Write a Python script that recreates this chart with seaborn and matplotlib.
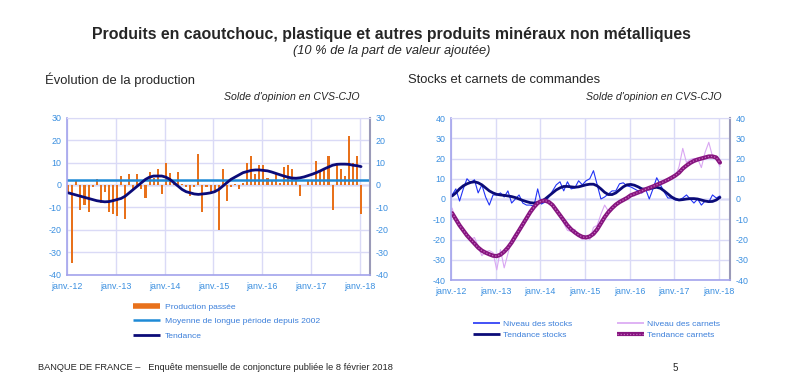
import matplotlib
matplotlib.use("Agg")
import matplotlib.pyplot as plt
from matplotlib.lines import Line2D
import numpy as np
import pandas as pd
import seaborn as sns

# --- data (monthly, janv. 2012 -> janv. 2018) ---
year_labels = ['janv.-12', 'janv.-13', 'janv.-14', 'janv.-15', 'janv.-16', 'janv.-17', 'janv.-18']

production = [
    -3, -35, 2, -11, -9, -12, -1, 2.5, -8, -3, -12, -13,
    -14, 4, -15, 5, -2, 5, -2, -6, 6, 3, 7, -4,
    10, 5.5, 0.5, 6, 0.5, -1, -5, -1, 14, -12, -1, -3,
    -2.5, -20, 7, -7, -1, 0.5, -2, 1, 10, 13, 5, 9,
    9, 3, 2, 5.5, 1, 8, 9, 7, 2, -5, 0, 2,
    2, 10.5, 6, 7, 13, -11, 9, 7, 4, 22, 10, 13,
    -13,
]
tendance_prod = [
    -3.5, -4, -4.5, -5, -5.5, -6, -6.5, -7, -7.3, -7.5, -7.4, -7,
    -6.5, -6, -5, -3.5, -2, -0.5, 1, 2.5, 3.5, 4, 4, 4,
    3.5, 2.5, 1, -0.5, -2, -3, -3.5, -4, -4.2, -4, -3.8, -3.5,
    -3, -2, -0.5, 1, 2.5, 3.5, 4.5, 5.5, 6, 6.5, 6.7, 6.7,
    6.5, 6.3, 5.8, 5.2, 4.6, 4, 3.5, 3.1, 3, 3.2, 3.6, 4.2,
    4.8, 5.5, 6.3, 7.2, 8, 8.8, 9.2, 9.3, 9.3, 9.2, 8.8, 8.6,
    8.2,
]
moyenne_lp = 2.3

niveau_stocks = [
    2, 5, -1, 5, 10, 8, 9.5, 3, 7, 1, -3, 2,
    2, 3, 1, 4, -2, 0, 2, -2, -3, -3, -3.5, 5,
    -2.5, -1.5, 1, 4, 7, 8.5, 4, 8.5, 5, 5.5, 9, 7,
    9, 10, 14, 7, 0, 1, 2.5, 4, 4, 7.5, 8, 6.5,
    6, 5, 4, 3, 5, 0, 5, 10.5, 7, 3.5, 0.5, 0.5,
    -0.5, -0.5, 0.5, 2, 0, -2, 0, -3, -1, -1.5, 2, 0.5,
    1.5,
]
tendance_stocks = [
    1.5, 3, 5, 6.5, 7.5, 8.2, 8.5, 8, 7, 5.5, 4, 3,
    2.3, 2, 1.8, 1.5, 1.2, 0.7, 0, -0.7, -1.3, -1.8, -2, -1.8,
    -1.2, 0, 1.5, 3, 4.5, 5.5, 6.2, 6.2, 6, 5.8, 6, 6.5,
    7, 7.3, 7.3, 6.5, 5, 3.3, 2.2, 2.2, 3, 4.5, 6, 7,
    7.2, 6.8, 6, 5, 4.8, 5, 5.5, 5.8, 5.3, 4, 2.5, 1,
    0, -0.5, -0.3, 0, 0.2, 0.2, 0, -0.5, -1, -1.3, -1.2, -0.5,
    0.8,
]
niveau_carnets = [
    -4.5, -11, -13, -16, -17, -20, -19, -23.5, -28, -26, -25.5, -26.5,
    -35, -25, -34, -27, -20, -17, -16, -13, -10, -6, -4, -2,
    -1.5, 0, -2.5, -3, -6, -8, -12, -15.5, -16, -15, -18.5, -20,
    -19, -20, -14, -13, -7.5, -3, -6, -4, -2.5, -1.5, 0, 1,
    2, 1.5, 4, 3, 5.5, 4, 6.5, 6, 7, 8, 9.5, 11,
    11, 16, 25, 18, 19.5, 20, 20, 15.5, 23, 28, 21, 20,
    16,
]
tendance_carnets = [
    -7, -10, -13, -15.5, -18, -20, -22, -24, -25.5, -26.5, -27.3, -28,
    -28.2, -27.5, -26, -24, -21.5, -18.5, -15.5, -12.5, -9.5, -6.5, -4, -2,
    -1, -0.8, -1.5, -3, -5.5, -8, -10.5, -13, -15, -16.5, -17.8, -18.7,
    -19, -18.5, -17.2, -15, -12, -9, -6.5, -4.5, -2.8, -1.5, -0.5, 0.5,
    1.8, 2.5, 3.2, 4, 4.8, 5.5, 6.2, 7, 7.8, 8.6, 9.5, 10.5,
    11.6, 13, 15, 16.5, 17.8, 18.8, 19.5, 20, 20.5, 21, 21, 20.5,
    18,
]

months = np.arange(len(production)) + 0.3
df = pd.DataFrame({
    'mois': months,
    'production': production,
    'tendance': tendance_prod,
    'niveau_stocks': niveau_stocks,
    'tendance_stocks': tendance_stocks,
    'niveau_carnets': niveau_carnets,
    'tendance_carnets': tendance_carnets,
})

sns.set_style("white")
plt.rcParams['font.family'] = ['Liberation Sans', 'DejaVu Sans']
plt.rcParams['axes.unicode_minus'] = False

ORANGE = '#E8711B'
BLUE_MEAN = '#1E8AD6'
NAVY = '#0B0B78'
STOCK_BLUE = '#2233F5'
CARNET_LIGHT = '#D9A6F2'
CARNET_DARK = '#86157F'
TICK_BLUE = '#3A8FE0'
GRID = '#DADAF6'
SPINE = '#A3A3EC'

fig = plt.figure(figsize=(7.92, 3.86), dpi=100)
ax1 = fig.add_axes([67 / 792, 1 - 274.7 / 386, 303 / 792, 157 / 386])
ax2 = fig.add_axes([451 / 792, 1 - 280 / 386, 279 / 792, 162 / 386])


def style_axis(ax, ylim, yticks, xmax):
    ax.set_xlim(0, xmax)
    ax.set_ylim(*ylim)
    ax.set_xticks(np.arange(0, 73, 12))
    ax.set_xticklabels(year_labels)
    ax.set_yticks(yticks)
    ax.grid(True, color=GRID, linewidth=1.0)
    ax.set_axisbelow(True)
    ax.axhline(0, color=SPINE, linewidth=1.0, zorder=0.5)
    ax.set_xlabel('')
    ax.set_ylabel('')
    for side in ['left', 'bottom']:
        ax.spines[side].set_color(SPINE)
        ax.spines[side].set_linewidth(1.2)
    ax.spines['top'].set_color(GRID)
    ax.spines['right'].set_color('#9A9AB8')
    ax.spines['right'].set_linewidth(1.5)
    ax.tick_params(axis='both', labelsize=6.4, labelcolor=TICK_BLUE, length=0)
    ax.tick_params(axis='x', pad=5)
    ax.tick_params(axis='y', pad=4, labelright=True, labelleft=True)


# --- left: production ---
sns.barplot(data=df, x='mois', y='production', native_scale=True, color=ORANGE,
            width=0.5, saturation=1, linewidth=0, ax=ax1)
ax1.axhline(moyenne_lp, color=BLUE_MEAN, linewidth=1.8)
sns.lineplot(data=df, x='mois', y='tendance', color=NAVY, linewidth=2.0, ax=ax1)
style_axis(ax1, (-40, 30), np.arange(-40, 31, 10), 74.5)

# --- right: stocks et carnets ---
sns.lineplot(data=df, x='mois', y='niveau_carnets', color=CARNET_LIGHT, linewidth=0.8, ax=ax2)
sns.lineplot(data=df, x='mois', y='niveau_stocks', color=STOCK_BLUE, linewidth=0.8, ax=ax2)
sns.lineplot(data=df, x='mois', y='tendance_stocks', color=NAVY, linewidth=2.0, ax=ax2)
sns.lineplot(data=df, x='mois', y='tendance_carnets', color=CARNET_DARK, linewidth=3.0, ax=ax2)
sns.lineplot(data=df, x='mois', y='tendance_carnets', color='#C468BE', linewidth=0.9,
             linestyle=(0, (1, 1.5)), ax=ax2)
style_axis(ax2, (-40, 40), np.arange(-40, 41, 10), 75)

# --- texts ---
fig.text(0.494, 1 - 35 / 386, 'Produits en caoutchouc, plastique et autres produits minéraux non métalliques',
         ha='center', va='center', fontsize=11.4, fontweight='bold')
fig.text(0.494, 1 - 51 / 386, '(10 % de la part de valeur ajoutée)', ha='center', va='center',
         fontsize=9.3, style='italic')
fig.text(45 / 792, 1 - 80 / 386, 'Évolution de la production', ha='left', va='center', fontsize=9.4)
fig.text(408 / 792, 1 - 80 / 386, 'Stocks et carnets de commandes', ha='left', va='center', fontsize=9.4)
fig.text(360 / 792, 1 - 97 / 386, "Solde d'opinion en CVS-CJO", ha='right', va='center',
         fontsize=7.6, style='italic')
fig.text(721 / 792, 1 - 97 / 386, "Solde d'opinion en CVS-CJO", ha='right', va='center',
         fontsize=7.6, style='italic')
fig.text(38 / 792, 1 - 368 / 386,
         'BANQUE DE FRANCE –   Enquête mensuelle de conjoncture publiée le 8 février 2018',
         ha='left', va='center', fontsize=6.7)
fig.text(673 / 792, 1 - 368 / 386, '5', ha='left', va='center', fontsize=7)

# --- legends ---
h_prod = Line2D([], [], color=ORANGE, linewidth=4, solid_capstyle='butt')
h_mean = Line2D([], [], color=BLUE_MEAN, linewidth=1.8, solid_capstyle='butt')
h_tend = Line2D([], [], color=NAVY, linewidth=2, solid_capstyle='butt')
fig.legend([h_prod, h_mean, h_tend],
           ['Production passée', 'Moyenne de longue période depuis 2002', 'Tendance'],
           loc='upper left', bbox_to_anchor=(129 / 792, 1 - 299 / 386), frameon=False,
           fontsize=6.1, handlelength=3.1, handletextpad=0.6, labelspacing=0.75,
           labelcolor='#3B7FDA', borderpad=0)

h_ns = Line2D([], [], color=STOCK_BLUE, linewidth=1.2, solid_capstyle='butt')
h_ts = Line2D([], [], color=NAVY, linewidth=2, solid_capstyle='butt')
h_nc = Line2D([], [], color=CARNET_LIGHT, linewidth=1.2, solid_capstyle='butt')
h_tc = (Line2D([], [], color=CARNET_DARK, linewidth=3, solid_capstyle='butt'),
        Line2D([], [], color='#C468BE', linewidth=0.9, linestyle=(0, (1, 1.5))))
fig.legend([h_ns, h_ts, h_nc, h_tc],
           ['Niveau des stocks', 'Tendance stocks', 'Niveau des carnets', 'Tendance carnets'],
           loc='upper left', bbox_to_anchor=(469 / 792, 1 - 316 / 386), frameon=False, ncol=2,
           fontsize=6.1, handlelength=3.2, handletextpad=0.3, labelspacing=0.3, columnspacing=5.3,
           labelcolor='#3B7FDA', borderpad=0)

fig.savefig('out.png', dpi=100)
